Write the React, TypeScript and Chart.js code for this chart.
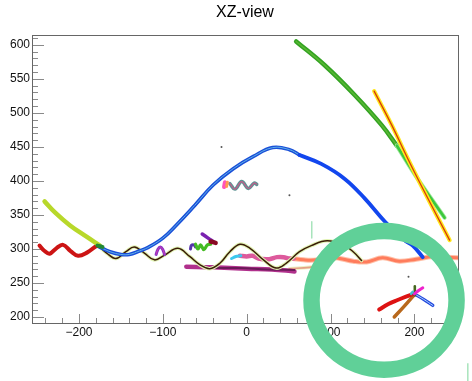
import { useEffect, useRef } from 'react';
import { Chart, registerables } from 'chart.js';

Chart.register(...registerables);

type P = [number, number];

// ---- axes ----
const xTickLabels = [-200, -100, 0, 100, 200];
const yTickLabels = [200, 250, 300, 350, 400, 450, 500, 550, 600];
const xMin = -256;
const xMax = 252;
const yMin = 191.2;
const yMax = 614.5;
const xMinorStep = 20;
const yMinorStep = 10;
const chartTitle = 'XZ-view';

// ---- tracks (x, z) ----
const blueArcLeft: P[] = [[-177, 304], [-163, 296], [-150, 292], [-140, 292], [-128, 297], [-118, 302], [-100, 316], [-84, 335], [-62, 364], [-40, 394], [-16, 418], [8, 436], [31, 449], [51, 446], [63, 438]];
const blueArcRight: P[] = [[63, 438], [89, 425], [117, 403], [141, 374], [165, 340], [188, 313], [198, 305], [210, 288]];
const blackHelix: P[] = [[-177, 305], [-167, 294], [-156, 286], [-144, 296], [-134, 303], [-122, 294], [-110, 284], [-98, 291], [-82, 301], [-68, 289], [-56, 277], [-44, 271], [-32, 279], [-20, 296], [-8, 307], [4, 301], [20, 284], [35, 272], [47, 279], [63, 296], [77, 305], [96, 312], [115, 306], [127, 296], [137, 283]];
const redWave: P[] = [[-247, 305], [-241, 297], [-235, 293], [-227, 301], [-219, 306], [-210, 297], [-201, 290], [-190, 295], [-181, 303], [-177, 305]];
const limeTrack: P[] = [[-241, 370], [-228, 353], [-211, 335], [-191, 318], [-175, 305]];
const greenStub: P[] = [[-178, 305], [-172, 303]];
const greenTrackUpper: P[] = [[59, 605], [93, 570], [129, 526], [161, 482], [179, 452]];
const greenTrackLower: P[] = [[179, 452], [204, 403], [236, 346]];
const yellowTrack: P[] = [[152, 532], [173, 482], [192, 433], [212, 384], [242, 313]];
const salmonWave: P[] = [[55, 286], [68, 284], [83, 284], [97, 288], [111, 286], [127, 282], [143, 281], [162, 287], [182, 282], [202, 285], [222, 289], [238, 288], [252, 287]];
const tanTrack: P[] = [[51, 271], [75, 273], [91, 277], [107, 286]];
const pinkTrack: P[] = [[-8, 290], [0, 289], [7, 290], [14, 286], [27, 285], [36, 288], [44, 288], [50, 286], [56, 286]];
const cyanTrack: P[] = [[-18, 286], [-13, 289], [-7, 290]];
const mauveTrack: P[] = [[-72, 274], [-40, 273], [0, 271], [30, 270], [57, 267]];
const plumTrack: P[] = [[-50, 272], [-10, 272], [25, 270], [57, 269]];
const purpleLoop: P[] = [[-108, 292], [-106, 299], [-103, 303], [-100, 299], [-98, 292]];
const violetLoop: P[] = [[-67, 300], [-66, 305], [-63, 306], [-61, 303]];
const greenWiggle: P[] = [[-61, 307], [-58, 300], [-55, 306], [-51, 299], [-47, 306], [-43, 307]];
const violetStub: P[] = [[-53, 322], [-46, 316], [-40, 311]];
const darkRedBlob: P[] = [[-43, 311], [-37, 309]];
const helixWave: P[] = [[-20, 396], [-14, 388], [-6, 399], [2, 389], [9, 397], [12, 395]];
const helixPink: P[] = [[-27, 391], [-26, 398]];
const helixOrange: P[] = [[-24, 392], [-23, 398]];
const clusterRed: P[] = [[158, 211], [169, 219], [180, 225], [190, 230], [199, 234]];
const clusterBrown: P[] = [[176, 200], [188, 216], [200, 233]];
const clusterBlue: P[] = [[200, 234], [211, 226], [222, 217]];
const clusterGreen: P[] = [[200.5, 232], [200.5, 245]];
const clusterMagenta: P[] = [[200, 234], [205, 239], [210, 243]];
const clusterCyan: P[] = [[196, 234], [198, 237]];
const strayDots: P[] = [[-30, 450], [51, 379], [193, 259]];
const paleMarkInside: P[] = [[77.6, 340], [77.6, 316]];
const paleMarkOutside: P[] = [[263.7, 132], [263.7, 106]];

// ---- annotation circle (data units) ----
const circleCenter: P = [163.8, 224.5];
const circleRadius: P = [86.5, 102];

const FONT = "'Liberation Sans', Arial, Helvetica, sans-serif";

type Style = { color: string; width: number; tension?: number };

// bottom-to-top drawing order
const layers: [P[], Style][] = [
  [tanTrack, { color: '#eef0c4', width: 3.5 }],
  [tanTrack, { color: '#e4a084', width: 1.6 }],
  [salmonWave, { color: '#ffc0a8', width: 5 }],
  [salmonWave, { color: '#ff7c5c', width: 3 }],
  [mauveTrack, { color: '#b0308c', width: 4.5 }],
  [plumTrack, { color: '#6a1a58', width: 2 }],
  [pinkTrack, { color: '#dd5a9c', width: 4.5 }],
  [cyanTrack, { color: '#3cc8ee', width: 3 }],
  [blackHelix, { color: '#e2f4b4', width: 3.6 }],
  [blackHelix, { color: '#3a1c08', width: 1.5 }],
  [blueArcLeft, { color: '#1a4fd8', width: 3.6 }],
  [blueArcLeft, { color: '#5fb0e8', width: 1 }],
  [blueArcRight, { color: '#1246ee', width: 3.8 }],
  [redWave, { color: '#cc1414', width: 4 }],
  [limeTrack, { color: '#b8d82a', width: 4.5 }],
  [greenStub, { color: '#228833', width: 4 }],
  [greenTrackUpper, { color: '#33a322', width: 4.5 }],
  [greenTrackUpper, { color: '#5ab834', width: 1.5 }],
  [greenTrackLower, { color: '#9ee69a', width: 4.2 }],
  [greenTrackLower, { color: '#3cc83c', width: 2.6 }],
  [yellowTrack, { color: '#ffe81c', width: 4.2 }],
  [yellowTrack, { color: '#d83a0a', width: 1.3 }],
  [purpleLoop, { color: '#8a30c8', width: 3 }],
  [purpleLoop, { color: '#cc44aa', width: 1 }],
  [violetLoop, { color: '#5533aa', width: 3 }],
  [greenWiggle, { color: '#44bb22', width: 3.2 }],
  [violetStub, { color: '#7a22b0', width: 3.5 }],
  [darkRedBlob, { color: '#880a22', width: 4.5 }],
  [helixWave, { color: '#5e9494', width: 3.5 }],
  [helixWave, { color: '#c85a8a', width: 1.1 }],
  [helixPink, { color: '#ff55bb', width: 4 }],
  [helixOrange, { color: '#ff9a50', width: 3 }],
  [clusterBrown, { color: '#b8681c', width: 3.5 }],
  [clusterRed, { color: '#dd1212', width: 4 }],
  [clusterBlue, { color: '#2448dd', width: 3.2 }],
  [clusterBlue, { color: '#a8d4ff', width: 1 }],
  [clusterGreen, { color: '#44661e', width: 2.6 }],
  [clusterMagenta, { color: '#ee22cc', width: 3 }],
  [clusterCyan, { color: '#44bbcc', width: 2.5 }],
  [paleMarkInside, { color: '#a8e4bc', width: 1.5 }],
];

const fmt = (v: number) => (v < 0 ? '\u2212' + Math.abs(v) : String(v));

const rootFrame = {
  id: 'rootFrame',
  beforeDatasetsDraw(chart: any) {
    const { ctx, chartArea: a, scales } = chart;
    const xs = scales.x;
    const ys = scales.y;
    ctx.save();
    ctx.lineWidth = 1;
    ctx.strokeStyle = '#8a8a8a';
    ctx.beginPath();
    for (let v = Math.ceil(yMin / yMinorStep) * yMinorStep; v <= yMax; v += yMinorStep) {
      const y = Math.round(ys.getPixelForValue(v)) + 0.5;
      const len = v % 50 === 0 ? 12 : 6;
      ctx.moveTo(a.left, y);
      ctx.lineTo(a.left + len, y);
    }
    for (let v = Math.ceil(xMin / xMinorStep) * xMinorStep; v <= xMax; v += xMinorStep) {
      const x = Math.round(xs.getPixelForValue(v)) + 0.5;
      const len = v % 100 === 0 ? 9 : 5;
      ctx.moveTo(x, a.bottom);
      ctx.lineTo(x, a.bottom - len);
    }
    ctx.stroke();
    ctx.strokeStyle = '#666';
    ctx.strokeRect(Math.round(a.left) + 0.5, Math.round(a.top) + 0.5, Math.round(a.right - a.left), Math.round(a.bottom - a.top));
    ctx.restore();
  },
  afterDraw(chart: any) {
    const { ctx, scales } = chart;
    const xs = scales.x;
    const ys = scales.y;
    ctx.save();
    ctx.strokeStyle = '#a8e4bc';
    ctx.lineWidth = 1.5;
    ctx.beginPath();
    ctx.moveTo(xs.getPixelForValue(paleMarkOutside[0][0]), ys.getPixelForValue(paleMarkOutside[0][1]));
    ctx.lineTo(xs.getPixelForValue(paleMarkOutside[1][0]), ys.getPixelForValue(paleMarkOutside[1][1]));
    ctx.stroke();
    const cx = xs.getPixelForValue(circleCenter[0]);
    const cy = ys.getPixelForValue(circleCenter[1]);
    const rx = Math.abs(xs.getPixelForValue(circleCenter[0] + circleRadius[0]) - cx);
    const ry = Math.abs(ys.getPixelForValue(circleCenter[1] + circleRadius[1]) - cy);
    ctx.strokeStyle = '#60d098';
    ctx.lineWidth = 16.5;
    ctx.beginPath();
    ctx.ellipse(cx, cy, rx, ry, 0, 0, Math.PI * 2);
    ctx.stroke();
    ctx.restore();
  },
};

export default function App() {
  const ref = useRef<HTMLCanvasElement | null>(null);
  useEffect(() => {
    if (!ref.current) return;
    const n = layers.length;
    const datasets: any[] = layers.map(([pts, s], i) => ({
      data: pts.map(([x, y]) => ({ x, y })),
      borderColor: s.color,
      backgroundColor: s.color,
      borderWidth: s.width,
      tension: s.tension ?? 0.4,
      pointRadius: 0,
      borderCapStyle: 'round',
      borderJoinStyle: 'round',
      fill: false,
      order: n + 5 - i,
    }));
    datasets.push({
      data: strayDots.map(([x, y]) => ({ x, y })),
      showLine: false,
      pointRadius: 1,
      pointBorderWidth: 0,
      backgroundColor: '#555',
      borderColor: '#555',
      order: 0,
    });
    const chart = new Chart(ref.current, {
      type: 'line',
      data: { datasets },
      options: {
        animation: false,
        responsive: false,
        devicePixelRatio: 1,
        layout: { padding: { left: 0, right: 14, top: 0, bottom: 0 } },
        plugins: {
          legend: { display: false },
          tooltip: { enabled: false },
          title: {
            display: true,
            text: chartTitle,
            fullSize: false,
            color: '#000',
            font: { family: FONT, size: 16, weight: 'normal' },
            padding: { top: 2.5, bottom: 13.3 },
          },
        },
        scales: {
          x: {
            type: 'linear',
            min: xMin,
            max: xMax,
            grid: { display: false, drawTicks: false },
            border: { display: false },
            afterBuildTicks: (s: any) => {
              s.ticks = xTickLabels.map((v) => ({ value: v }));
            },
            afterFit: (s: any) => {
              s.height = 58;
            },
            ticks: {
              autoSkip: false,
              maxRotation: 0,
              padding: 2,
              color: '#111',
              font: { family: FONT, size: 12 },
              callback: (v: any) => fmt(Number(v)),
            },
          },
          y: {
            type: 'linear',
            min: yMin,
            max: yMax,
            grid: { display: false, drawTicks: false },
            border: { display: false },
            afterBuildTicks: (s: any) => {
              s.ticks = yTickLabels.map((v) => ({ value: v }));
            },
            afterFit: (s: any) => {
              s.width = 32;
            },
            ticks: {
              autoSkip: false,
              padding: 2,
              color: '#111',
              font: { family: FONT, size: 12 },
              callback: (v: any) => fmt(Number(v)),
            },
          },
        },
      } as any,
      plugins: [rootFrame],
    });
    return () => chart.destroy();
  }, []);
  return (
    <div style={{ position: 'fixed', left: 0, top: 0, width: 472, height: 381, background: '#fff' }}>
      <canvas ref={ref} width={472} height={381} style={{ width: 472, height: 381, display: 'block' }} />
    </div>
  );
}
